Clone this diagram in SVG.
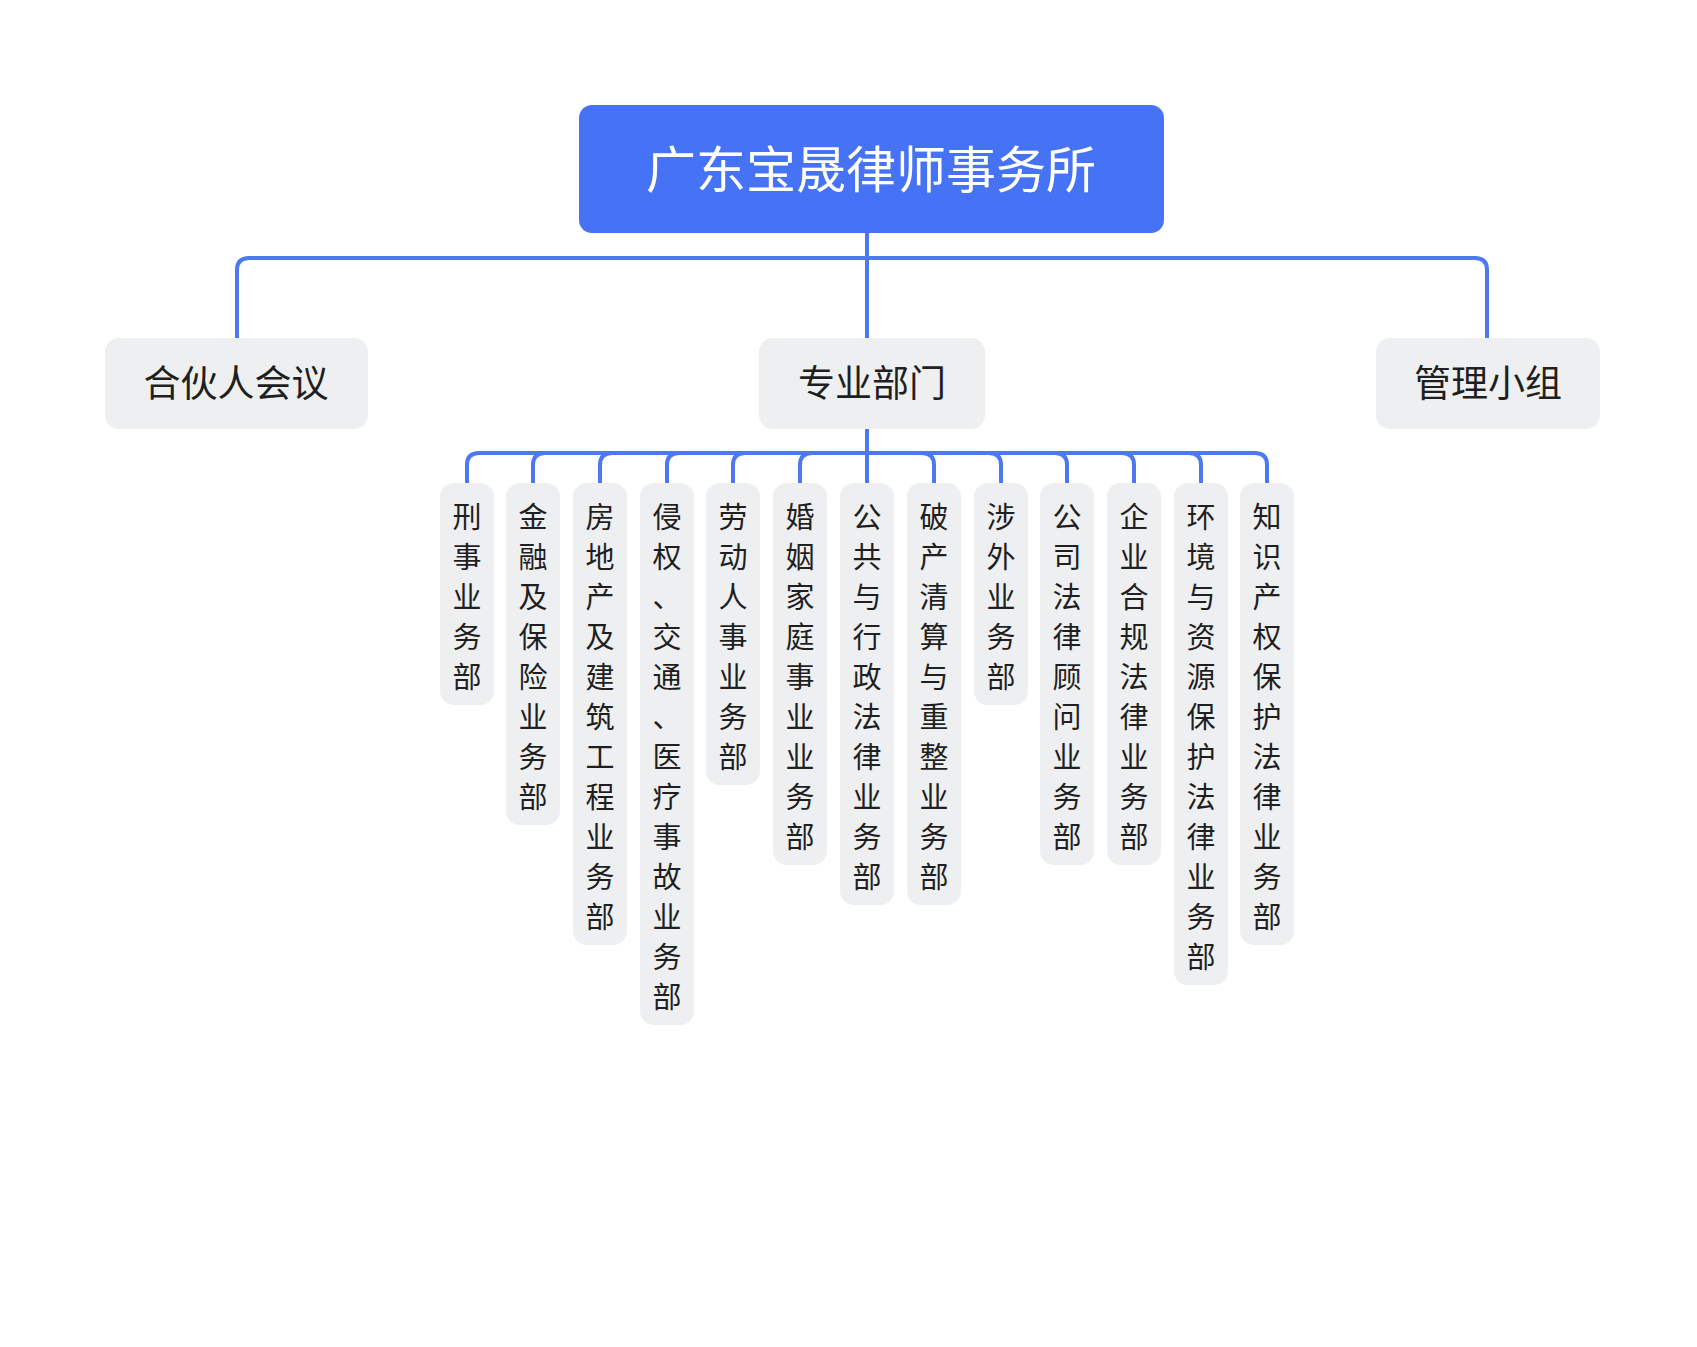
<svg xmlns="http://www.w3.org/2000/svg" width="1697" height="1347" viewBox="0 0 1697 1347">
<style>
.c{fill:none;stroke:#4d79ef;stroke-width:4}
.n{fill:#eeeff1}
.t2{font-family:"Noto Sans CJK SC",sans-serif;font-size:37px;fill:#1f1f1f;text-anchor:middle}
.t3{font-family:"Noto Sans CJK SC",sans-serif;font-size:29px;fill:#1f1f1f;text-anchor:middle}
</style>
<rect width="1697" height="1347" fill="#fff"/>
<g id="connectors">
<path class="c" d="M867 233V338M237 338V270Q237 258 249 258H1475Q1487 258 1487 270V338"/>
<path class="c" d="M867 429V483M467 483V465Q467 453 479 453H1255Q1267 453 1267 465V483"/>
<path class="c" d="M545 453Q533 453 533 465V483M612 453Q600 453 600 465V483M679 453Q667 453 667 465V483M745 453Q733 453 733 465V483M812 453Q800 453 800 465V483"/>
<path class="c" d="M922 453Q934 453 934 465V483M989 453Q1001 453 1001 465V483M1055 453Q1067 453 1067 465V483M1122 453Q1134 453 1134 465V483M1189 453Q1201 453 1201 465V483"/>
</g>
<g id="root"><rect x="579" y="105" width="585" height="128" rx="13" fill="#4672f5"/><text x="871" y="188" font-family="Noto Sans CJK SC,sans-serif" font-size="50" fill="#fff" text-anchor="middle">广东宝晟律师事务所</text></g>
<g id="n1"><rect class="n" x="105" y="338" width="263" height="91" rx="14"/><text class="t2" x="236" y="397">合伙人会议</text></g>
<g id="n2"><rect class="n" x="759" y="338" width="226" height="91" rx="14"/><text class="t2" x="872" y="397">专业部门</text></g>
<g id="n3"><rect class="n" x="1376" y="338" width="224" height="91" rx="14"/><text class="t2" x="1488" y="397">管理小组</text></g>
<g id="l1"><rect class="n" x="440" y="483" width="54" height="222" rx="14"/><text class="t3" x="467"><tspan x="467" y="528">刑</tspan><tspan x="467" dy="40">事</tspan><tspan x="467" dy="40">业</tspan><tspan x="467" dy="40">务</tspan><tspan x="467" dy="40">部</tspan></text></g>
<g id="l2"><rect class="n" x="506" y="483" width="54" height="342" rx="14"/><text class="t3"><tspan x="533" y="528">金</tspan><tspan x="533" dy="40">融</tspan><tspan x="533" dy="40">及</tspan><tspan x="533" dy="40">保</tspan><tspan x="533" dy="40">险</tspan><tspan x="533" dy="40">业</tspan><tspan x="533" dy="40">务</tspan><tspan x="533" dy="40">部</tspan></text></g>
<g id="l3"><rect class="n" x="573" y="483" width="54" height="462" rx="14"/><text class="t3"><tspan x="600" y="528">房</tspan><tspan x="600" dy="40">地</tspan><tspan x="600" dy="40">产</tspan><tspan x="600" dy="40">及</tspan><tspan x="600" dy="40">建</tspan><tspan x="600" dy="40">筑</tspan><tspan x="600" dy="40">工</tspan><tspan x="600" dy="40">程</tspan><tspan x="600" dy="40">业</tspan><tspan x="600" dy="40">务</tspan><tspan x="600" dy="40">部</tspan></text></g>
<g id="l4"><rect class="n" x="640" y="483" width="54" height="542" rx="14"/><text class="t3"><tspan x="667" y="528">侵</tspan><tspan x="667" dy="40">权</tspan><tspan x="667" dy="40">、</tspan><tspan x="667" dy="40">交</tspan><tspan x="667" dy="40">通</tspan><tspan x="667" dy="40">、</tspan><tspan x="667" dy="40">医</tspan><tspan x="667" dy="40">疗</tspan><tspan x="667" dy="40">事</tspan><tspan x="667" dy="40">故</tspan><tspan x="667" dy="40">业</tspan><tspan x="667" dy="40">务</tspan><tspan x="667" dy="40">部</tspan></text></g>
<g id="l5"><rect class="n" x="706" y="483" width="54" height="302" rx="14"/><text class="t3"><tspan x="733" y="528">劳</tspan><tspan x="733" dy="40">动</tspan><tspan x="733" dy="40">人</tspan><tspan x="733" dy="40">事</tspan><tspan x="733" dy="40">业</tspan><tspan x="733" dy="40">务</tspan><tspan x="733" dy="40">部</tspan></text></g>
<g id="l6"><rect class="n" x="773" y="483" width="54" height="382" rx="14"/><text class="t3"><tspan x="800" y="528">婚</tspan><tspan x="800" dy="40">姻</tspan><tspan x="800" dy="40">家</tspan><tspan x="800" dy="40">庭</tspan><tspan x="800" dy="40">事</tspan><tspan x="800" dy="40">业</tspan><tspan x="800" dy="40">业</tspan><tspan x="800" dy="40">务</tspan><tspan x="800" dy="40">部</tspan></text></g>
<g id="l7"><rect class="n" x="840" y="483" width="54" height="422" rx="14"/><text class="t3"><tspan x="867" y="528">公</tspan><tspan x="867" dy="40">共</tspan><tspan x="867" dy="40">与</tspan><tspan x="867" dy="40">行</tspan><tspan x="867" dy="40">政</tspan><tspan x="867" dy="40">法</tspan><tspan x="867" dy="40">律</tspan><tspan x="867" dy="40">业</tspan><tspan x="867" dy="40">务</tspan><tspan x="867" dy="40">部</tspan></text></g>
<g id="l8"><rect class="n" x="907" y="483" width="54" height="422" rx="14"/><text class="t3"><tspan x="934" y="528">破</tspan><tspan x="934" dy="40">产</tspan><tspan x="934" dy="40">清</tspan><tspan x="934" dy="40">算</tspan><tspan x="934" dy="40">与</tspan><tspan x="934" dy="40">重</tspan><tspan x="934" dy="40">整</tspan><tspan x="934" dy="40">业</tspan><tspan x="934" dy="40">务</tspan><tspan x="934" dy="40">部</tspan></text></g>
<g id="l9"><rect class="n" x="974" y="483" width="54" height="222" rx="14"/><text class="t3"><tspan x="1001" y="528">涉</tspan><tspan x="1001" dy="40">外</tspan><tspan x="1001" dy="40">业</tspan><tspan x="1001" dy="40">务</tspan><tspan x="1001" dy="40">部</tspan></text></g>
<g id="l10"><rect class="n" x="1040" y="483" width="54" height="382" rx="14"/><text class="t3"><tspan x="1067" y="528">公</tspan><tspan x="1067" dy="40">司</tspan><tspan x="1067" dy="40">法</tspan><tspan x="1067" dy="40">律</tspan><tspan x="1067" dy="40">顾</tspan><tspan x="1067" dy="40">问</tspan><tspan x="1067" dy="40">业</tspan><tspan x="1067" dy="40">务</tspan><tspan x="1067" dy="40">部</tspan></text></g>
<g id="l11"><rect class="n" x="1107" y="483" width="54" height="382" rx="14"/><text class="t3"><tspan x="1134" y="528">企</tspan><tspan x="1134" dy="40">业</tspan><tspan x="1134" dy="40">合</tspan><tspan x="1134" dy="40">规</tspan><tspan x="1134" dy="40">法</tspan><tspan x="1134" dy="40">律</tspan><tspan x="1134" dy="40">业</tspan><tspan x="1134" dy="40">务</tspan><tspan x="1134" dy="40">部</tspan></text></g>
<g id="l12"><rect class="n" x="1174" y="483" width="54" height="502" rx="14"/><text class="t3"><tspan x="1201" y="528">环</tspan><tspan x="1201" dy="40">境</tspan><tspan x="1201" dy="40">与</tspan><tspan x="1201" dy="40">资</tspan><tspan x="1201" dy="40">源</tspan><tspan x="1201" dy="40">保</tspan><tspan x="1201" dy="40">护</tspan><tspan x="1201" dy="40">法</tspan><tspan x="1201" dy="40">律</tspan><tspan x="1201" dy="40">业</tspan><tspan x="1201" dy="40">务</tspan><tspan x="1201" dy="40">部</tspan></text></g>
<g id="l13"><rect class="n" x="1240" y="483" width="54" height="462" rx="14"/><text class="t3"><tspan x="1267" y="528">知</tspan><tspan x="1267" dy="40">识</tspan><tspan x="1267" dy="40">产</tspan><tspan x="1267" dy="40">权</tspan><tspan x="1267" dy="40">保</tspan><tspan x="1267" dy="40">护</tspan><tspan x="1267" dy="40">法</tspan><tspan x="1267" dy="40">律</tspan><tspan x="1267" dy="40">业</tspan><tspan x="1267" dy="40">务</tspan><tspan x="1267" dy="40">部</tspan></text></g>
</svg>
